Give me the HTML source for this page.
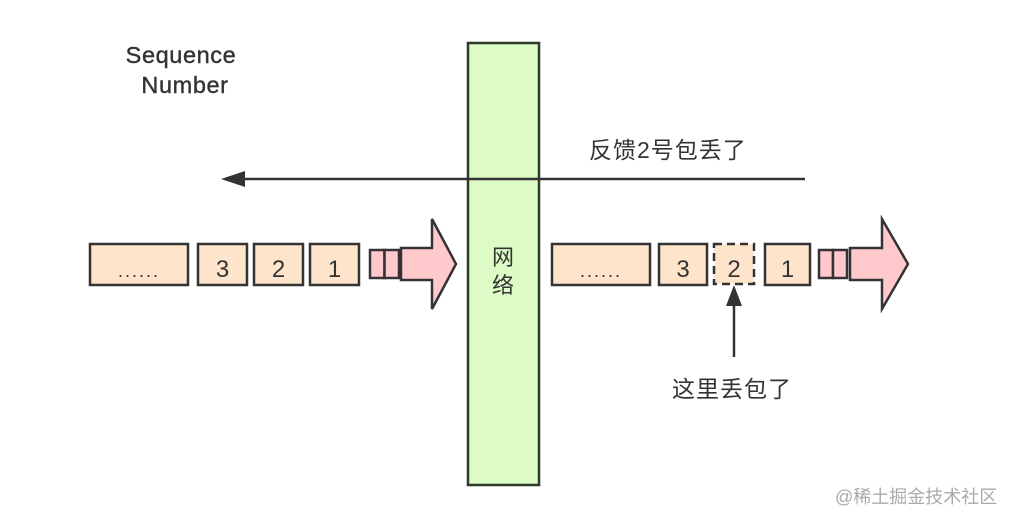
<!DOCTYPE html>
<html>
<head>
<meta charset="utf-8">
<style>
  html,body{margin:0;padding:0;background:#fff;}
  body{width:1012px;height:522px;overflow:hidden;}
  svg{display:block;}
  text{font-family:"Liberation Sans","Noto Sans CJK SC",sans-serif;fill:#333;}
</style>
</head>
<body>
<svg width="1012" height="522" viewBox="0 0 1012 522" xmlns="http://www.w3.org/2000/svg">
  <rect x="0" y="0" width="1012" height="522" fill="#fff"/>

  <!-- Sequence Number -->
  <text x="181" y="63" font-size="23.5" text-anchor="middle" letter-spacing="0.6" stroke="#333" stroke-width="0.4">Sequence</text>
  <text x="185" y="93" font-size="23.5" text-anchor="middle" letter-spacing="0.6" stroke="#333" stroke-width="0.4">Number</text>

  <!-- green network bar -->
  <rect x="468" y="43" width="71" height="442" fill="#ddfcc5" stroke="#2f3a2c" stroke-width="2.5"/>
  <text x="503" y="265" font-size="22" text-anchor="middle" font-family="'Noto Sans CJK SC',sans-serif">网</text>
  <text x="503" y="293" font-size="22" text-anchor="middle" font-family="'Noto Sans CJK SC',sans-serif">络</text>

  <!-- feedback arrow -->
  <line x1="244" y1="179" x2="805" y2="179" stroke="#333" stroke-width="2.5"/>
  <polygon points="221,179 245,171 245,187" fill="#333"/>
  <text x="589" y="158" font-size="23" font-family="'Liberation Sans','Noto Sans CJK SC',sans-serif" letter-spacing="1">反馈2号包丢了</text>

  <!-- LEFT sequence -->
  <g stroke="#333" stroke-width="2.5" fill="#ffe4cc">
    <rect x="90" y="244" width="98" height="41"/>
    <rect x="198" y="244" width="49" height="41"/>
    <rect x="254" y="244" width="49" height="41"/>
    <rect x="310" y="244" width="49" height="41"/>
  </g>
  <text x="139" y="277" font-size="18" text-anchor="middle" letter-spacing="2">......</text>
  <text x="222.5" y="277" font-size="24" text-anchor="middle">3</text>
  <text x="278.5" y="277" font-size="24" text-anchor="middle">2</text>
  <text x="334.5" y="277" font-size="24" text-anchor="middle">1</text>

  <g stroke="#333" stroke-width="2.5" fill="#ffc9cc" stroke-linejoin="miter">
    <rect x="370" y="250" width="14.5" height="28"/>
    <rect x="384.5" y="250" width="14.5" height="28"/>
    <polygon points="401,248 432,248 432,219 456,264 432,309 432,280 401,280"/>
  </g>

  <!-- RIGHT sequence -->
  <g stroke="#333" stroke-width="2.5" fill="#ffe4cc">
    <rect x="552" y="244" width="98" height="41"/>
    <rect x="659" y="244" width="48" height="41"/>
    <rect x="765" y="244" width="45" height="41"/>
  </g>
  <rect x="714" y="244" width="40" height="40" fill="#ffe4cc" stroke="#333" stroke-width="2.5" stroke-dasharray="8,5"/>
  <text x="601" y="277" font-size="18" text-anchor="middle" letter-spacing="2">......</text>
  <text x="683" y="277" font-size="24" text-anchor="middle">3</text>
  <text x="734" y="277" font-size="24" text-anchor="middle">2</text>
  <text x="787.5" y="277" font-size="24" text-anchor="middle">1</text>

  <g stroke="#333" stroke-width="2.5" fill="#ffc9cc" stroke-linejoin="miter">
    <rect x="819" y="250" width="14" height="28"/>
    <rect x="833" y="250" width="14" height="28"/>
    <polygon points="850,248 882,248 882,219 908,264 882,309 882,280 850,280"/>
  </g>

  <!-- up arrow -->
  <line x1="734" y1="357" x2="734" y2="300" stroke="#333" stroke-width="2.5"/>
  <polygon points="734,285 742,306 726,306" fill="#333"/>
  <text x="672" y="397" font-size="23" font-family="'Noto Sans CJK SC',sans-serif" letter-spacing="1">这里丢包了</text>

  <!-- watermark -->
  <text x="835" y="503" font-size="18" fill="#aaa" style="fill:#aaa" font-family="'Liberation Sans','Noto Sans CJK SC',sans-serif">@稀土掘金技术社区</text>
</svg>
</body>
</html>
